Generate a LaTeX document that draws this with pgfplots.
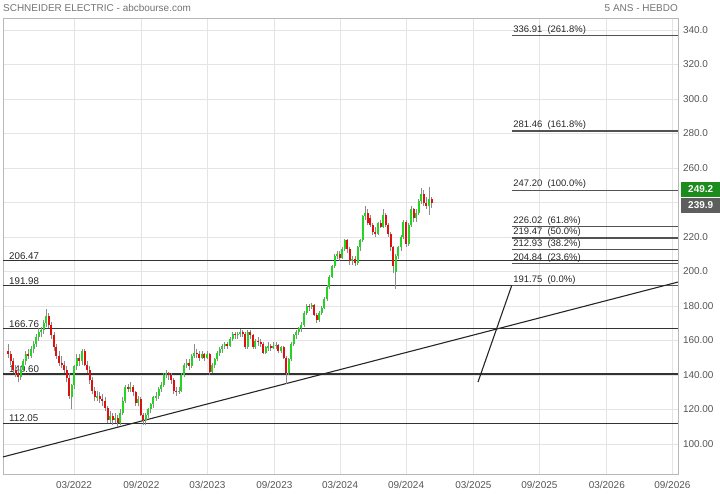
\documentclass[border=0pt]{standalone}
\usepackage{pgfplots}
\pgfplotsset{compat=1.18}
\usepackage{pgfplotstable}
\usepackage{fontspec}
\setmainfont{Liberation Sans}

\definecolor{upc}{HTML}{22D522}
\definecolor{dnc}{HTML}{E01010}
\definecolor{wickc}{HTML}{8C8C8C}
\definecolor{gridc}{HTML}{E4E4E4}
\definecolor{lvl}{HTML}{333333}
\definecolor{txt}{HTML}{555555}
\definecolor{boxg}{HTML}{1C8C1C}
\definecolor{boxd}{HTML}{5E5E5E}

% weekly candles (open high low close), one row per week
\pgfplotstableread{
o h l c
154 158 150 152
152 154 146 148
148 150 141 143
143 146 139 141
141 143 136 139
139 145 137 143
143 149 142 148
148 154 146 152
152 155 149 151
151 157 150 155
155 160 153 158
158 164 156 162
162 167 160 165
165 168 162 166
166 172 164 170
170 178 168 174
174 176 167 169
169 171 161 163
163 165 154 156
156 158 149 151
151 154 145 147
147 151 144 146
146 148 141 143
143 145 136 138
138 141 126 128
127 135 120 134
134 146 132 145
145 152 143 150
150 152 145 148
148 155 146 154
154 155 145 146
146 148 141 143
143 145 135 137
137 139 129 131
131 133 125 127
127 131 125 128
128 130 124 126
126 129 122 125
125 127 119 121
121 122 112 114
114 119 112 116
116 118 111 114
114 118 112 115
115 117 110 112
112 120 111 118
118 127 117 125
125 134 124 133
133 135 130 132
132 136 130 133
133 134 128 130
130 131 122 124
124 128 122 126
126 127 116 117
117 118 111 114
114 118 111 117
117 121 115 120
120 124 118 123
123 128 121 127
127 130 125 128
128 133 126 132
132 136 130 134
134 141 133 140
140 143 138 141
141 142 137 140
140 141 135 137
137 138 129 131
131 133 128 130
130 133 129 131
131 141 130 140
140 147 139 146
146 149 144 147
147 149 143 145
145 152 144 151
151 158 150 153
153 155 150 152
152 154 148 150
150 154 149 152
152 153 148 150
150 154 149 152
152 153 140 142
142 147 141 146
146 150 144 149
149 154 148 153
153 156 151 155
155 158 153 157
157 159 155 158
158 159 155 157
157 162 156 161
161 165 160 164
164 165 161 163
163 165 161 164
164 166.5 162 165
165 166 162 164
164 165 155 156
156 166 155 165
165 166 161 163
163 164 155 156
156 161 155 160
160 162 157 159
159 161 156 158
158 159 152 153
153 157 152 156
156 159 154 157
157 158 154 156
156 159 155 157
157 159 155 157.5
157.5 158 153 154
154 157 153 156
156 157 149 150
150 151 135 141
141 150 140 149
149 159 148 158
158 164 157 163
163 166 161 165
165 168 163 167
167 171 165 169
169 177 168 176
176 181 175 180
180 181 177 179.5
179.5 182 178 180.5
180.5 181 174 175
175 176 170 172
172 177 171 176
176 180 175 179
179 185 178 184
184 192 183 191
191 198 190 197
197 204 196 203
203 210 202 209
209 212 207 210
210 212 206 208
208 214 207 213
213 219 212 218
218 219 211 213
213 214 204 206
206 209 204 207
207 209 203 205
205 215 204 214
214 219 212 218
218 233 217 232
232 238 230 234
234 236 227 228
231 233 226 227
227 228 221 223
223 226 220 222
222 229 221 228
228 230 225 226
226 236 225 233
233 234 226 227
227 228 220 222
222 223 212 214
214 215 199 203
200 210 190 209
209 215 207 214
214 221 212 220
220 230 219 229
229 230 214 216
216 228 215 227
227 238 226 236
236 237 229 231
231 236 229 234
234 242 233 241
241 248.5 239 245
245 247 238 240
240 243 236 238
238 249.2 233 242
242 243 237 239.9
}\candles

\begin{document}
\begin{tikzpicture}
\path[use as bounding box] (-3bp,-20bp) rectangle (717bp,474bp);
\begin{axis}[
  scale only axis, width=675bp, height=456bp,
  xmin=-1.96, xmax=262.6, ymin=82.6, ymax=347.0,
  clip=false,
  axis line style={black!28},
  tick style={draw=none},
  xtick={25.87,52.25,78.13,104.39,130.15,156.02,182.4,208.27,234.69,260.4},
  xticklabels={03/2022,09/2022,03/2023,09/2023,03/2024,09/2024,03/2025,09/2025,03/2026,09/2026},
  ytick={100,120,...,340},
  % the 240 label sits under the last-price box, as in the source
  yticklabels={100.00,120.00,140.00,160.00,180.00,200.0,220.0,,260.0,280.0,300.0,320.0,340.0},
  yticklabel pos=right,
  grid=major, major grid style={gridc, line width=0.8bp},
  ticklabel style={font=\fontsize{10}{12}\selectfont, text=txt},
  xticklabel style={yshift=-4bp},
  yticklabel style={xshift=1.5bp},
  /pgf/number format/assume math mode=true,
]
% support levels and their labels
\addplot[lvl, line width=1.2bp] coordinates {(-1.96,206.47) (262.6,206.47)};
\addplot[lvl, line width=1.2bp] coordinates {(-1.96,191.98) (262.6,191.98)};
\addplot[lvl, line width=1.2bp] coordinates {(-1.96,166.76) (262.6,166.76)};
\addplot[lvl, line width=1.2bp] coordinates {(-1.96,140.60) (262.6,140.60)};
\addplot[lvl, line width=1.2bp] coordinates {(-1.96,112.05) (262.6,112.05)};
\begin{scope}[every node/.style={anchor=south west, inner sep=1bp, font=\fontsize{9.8}{11}\selectfont, text=black!85}]
\node at (axis cs:0,206.47) {206.47};
\node at (axis cs:0,191.98) {191.98};
\node at (axis cs:0,166.76) {166.76};
\node at (axis cs:0,140.60) {140.60};
\node at (axis cs:0,112.05) {112.05};
\end{scope}

% fibonacci projection
\addplot[lvl!85, line width=1.2bp] coordinates {(197.4,336.91) (262.6,336.91)};
\addplot[lvl!85, line width=1.2bp] coordinates {(197.4,281.46) (262.6,281.46)};
\addplot[lvl!85, line width=1.2bp] coordinates {(197.4,247.20) (262.6,247.20)};
\addplot[lvl!85, line width=1.2bp] coordinates {(197.4,226.02) (262.6,226.02)};
\addplot[lvl!85, line width=1.2bp] coordinates {(197.4,219.47) (262.6,219.47)};
\addplot[lvl!85, line width=1.2bp] coordinates {(197.4,212.93) (262.6,212.93)};
\addplot[lvl!85, line width=1.2bp] coordinates {(197.4,204.84) (262.6,204.84)};
\addplot[lvl!85, line width=1.2bp] coordinates {(197.4,191.75) (262.6,191.75)};
\begin{scope}[every node/.style={anchor=south west, inner sep=1bp, font=\fontsize{9.5}{11}\selectfont, text=black!85}]
\node at (axis cs:197.6,336.91) {336.91\ \ (261.8\%)};
\node at (axis cs:197.6,281.46) {281.46\ \ (161.8\%)};
\node at (axis cs:197.6,247.20) {247.20\ \ (100.0\%)};
\node at (axis cs:197.6,226.02) {226.02\ \ (61.8\%)};
\node at (axis cs:197.6,219.47) {219.47\ \ (50.0\%)};
\node at (axis cs:197.6,212.93) {212.93\ \ (38.2\%)};
\node at (axis cs:197.6,204.84) {204.84\ \ (23.6\%)};
\node at (axis cs:197.6,191.75) {191.75\ \ (0.0\%)};
\end{scope}

% trend lines
\addplot[black!85, line width=1.1bp] coordinates {(-1.96,92.5) (262.6,193.9)};
\addplot[black!85, line width=1.1bp] coordinates {(184.2,135.9) (197.4,191.75)};

% candles: wicks, then bodies
\addplot[draw=none, mark=none, error bars/.cd, y dir=both, y explicit, error mark=none,
  error bar style={draw=wickc, line width=0.8bp}]
  table[x expr=\coordindex, y expr={(\thisrow{h}+\thisrow{l})/2}, y error expr={(\thisrow{h}-\thisrow{l})/2}]{\candles};
\addplot[draw=none, mark=none, restrict expr to domain={\thisrow{c}-\thisrow{o}}{0:1000},
  error bars/.cd, y dir=both, y explicit, error mark=none,
  error bar style={draw=upc, line width=2bp}]
  table[x expr=\coordindex, y expr={(\thisrow{o}+\thisrow{c})/2}, y error expr={max(abs(\thisrow{c}-\thisrow{o})/2,0.4)}]{\candles};
\addplot[draw=none, mark=none, restrict expr to domain={\thisrow{c}-\thisrow{o}}{-1000:-0.01},
  error bars/.cd, y dir=both, y explicit, error mark=none,
  error bar style={draw=dnc, line width=2bp}]
  table[x expr=\coordindex, y expr={(\thisrow{o}+\thisrow{c})/2}, y error expr={max(abs(\thisrow{c}-\thisrow{o})/2,0.4)}]{\candles};

% price boxes and titles
\node[fill=boxg, text=white, anchor=west, minimum height=15bp, minimum width=39bp, inner sep=0pt,
  font=\bfseries\fontsize{10}{12}\selectfont] at (axis cs:262.6,247.8) [xshift=3bp] {249.2};
\node[fill=boxd, text=white, anchor=west, minimum height=15bp, minimum width=39bp, inner sep=0pt,
  font=\bfseries\fontsize{10}{12}\selectfont] at (axis cs:262.6,238.5) [xshift=3bp] {239.9};
\node[anchor=base west, inner sep=0pt, text=black!55, font=\fontsize{10}{12}\selectfont]
  at (rel axis cs:0,1) [yshift=6.5bp] {SCHNEIDER ELECTRIC - abcbourse.com};
\node[anchor=base east, inner sep=0pt, text=black!55, font=\fontsize{10}{12}\selectfont]
  at (rel axis cs:1,1) [yshift=6.5bp] {5 ANS - HEBDO};
\end{axis}
\end{tikzpicture}
\end{document}
